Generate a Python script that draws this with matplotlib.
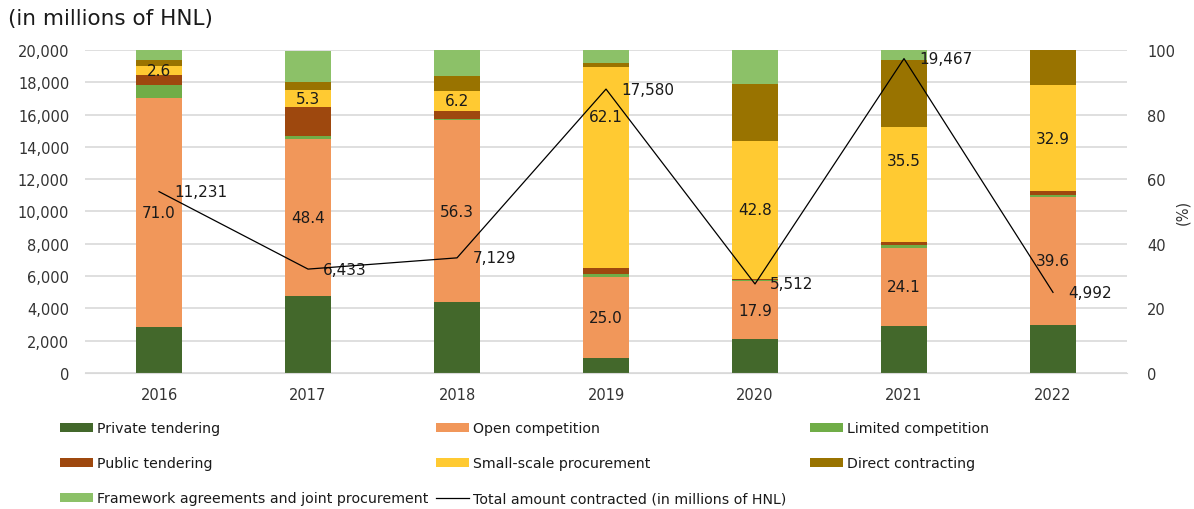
import matplotlib
matplotlib.use("Agg")
import matplotlib.pyplot as plt
from matplotlib.patches import Patch
from matplotlib.lines import Line2D
from matplotlib.ticker import FuncFormatter, MultipleLocator
import numpy as np

years = ["2016", "2017", "2018", "2019", "2020", "2021", "2022"]
series_names = ["Private tendering", "Open competition", "Limited competition",
                "Public tendering", "Small-scale procurement", "Direct contracting",
                "Framework agreements and joint procurement"]
private_tendering = [14.2, 23.9, 21.9, 4.6, 10.5, 14.7, 15.0]
open_competition = [71.0, 48.4, 56.3, 25.0, 17.9, 24.1, 39.6]
limited_competition = [4.1, 1.2, 0.5, 1.0, 0.4, 0.7, 0.5]
public_tendering = [3.0, 8.8, 2.5, 1.9, 0.3, 1.1, 1.1]
small_scale = [2.6, 5.3, 6.2, 62.1, 42.8, 35.5, 32.9]
direct_contracting = [1.9, 2.5, 4.5, 1.5, 17.7, 20.8, 10.9]
framework = [3.2, 9.7, 8.1, 3.9, 10.4, 3.1, 0.0]
total_amount = [11231, 6433, 7129, 17580, 5512, 19467, 4992]
line_name = "Total amount contracted (in millions of HNL)"

colors = ["#43682B", "#F1975A", "#70AD47", "#9E480E", "#FFCA32", "#997300", "#8CC168"]

series = [private_tendering, open_competition, limited_competition, public_tendering,
          small_scale, direct_contracting, framework]
labelled = {1: open_competition, 4: small_scale}
label_shift = {4: [0, 0, 0, 16, 0, 7.5, 0]}

plt.rcParams['font.family'] = ['DejaVu Sans']
fig = plt.figure(figsize=(11.94, 5.10), dpi=100)
ax = fig.add_axes([0.0708, 0.2667, 0.8735, 0.6333])
ax2 = ax.twinx()

x = np.arange(len(years))
bottom = np.zeros(len(years))
for i, (vals, c) in enumerate(zip(series, colors)):
    vals = np.array(vals)
    ax2.bar(x, vals, width=0.315, bottom=bottom, color=c, zorder=2)
    if i in labelled:
        shift = label_shift.get(i, [0] * len(years))
        for j in range(len(years)):
            ax2.text(x[j], bottom[j] + vals[j] / 2 + shift[j], f"{vals[j]:.1f}",
                     ha="center", va="center", fontsize=11, color="#1a1a1a", zorder=3)
    bottom += vals

ax2.set_ylim(0, 100)
ax2.yaxis.set_major_locator(MultipleLocator(20))
ax2.yaxis.set_minor_locator(MultipleLocator(10))
ax2.grid(True, which="both", axis="y", color="#d9d9d9", linewidth=1.2, zorder=0)
ax2.set_axisbelow(True)
ax2.tick_params(axis="y", which="both", length=0, labelsize=10.5, pad=14, colors="#333333")
fig.text(1183 / 1194, 1 - 212 / 510, "(%)", rotation=90, fontsize=10.5, color="#333333",
         ha="center", va="center")

ax.set_zorder(ax2.get_zorder() + 1)
ax.patch.set_visible(False)
ax.plot(x, total_amount, color="black", linewidth=0.9, zorder=4)
for j in range(len(years)):
    ax.annotate(f"{total_amount[j]:,}", (x[j], total_amount[j]), xytext=(11, 0),
                textcoords="offset points", ha="left", va="center", fontsize=11,
                color="#1a1a1a")
ax.set_ylim(0, 20000)
ax.set_xlim(-0.5, len(years) - 0.5)
ax.yaxis.set_major_locator(MultipleLocator(2000))
ax.yaxis.set_major_formatter(FuncFormatter(lambda v, p: f"{int(v):,}"))
ax.tick_params(axis="y", length=0, labelsize=10.5, pad=11, colors="#333333")
ax.set_xticks(x)
ax.set_xticklabels(years)
ax.tick_params(axis="x", length=0, labelsize=10.5, pad=10, colors="#333333")
for a in (ax, ax2):
    for s in a.spines.values():
        s.set_visible(False)
ax2.spines["bottom"].set_visible(True)
ax2.spines["bottom"].set_color("#d9d9d9")

fig.text(0.007, 0.963, "(in millions of HNL)", fontsize=15.5, ha="left", va="center",
         color="#1a1a1a")

handles = [Patch(facecolor=c, label=n) for c, n in zip(colors, series_names)]
handles.append(Line2D([0], [0], color="black", linewidth=0.9, label=line_name))
columns = [[0, 3, 6], [1, 4, 7], [2, 5]]
col_x = [60, 436, 810]
for col, cx in zip(columns, col_x):
    leg = fig.legend([handles[k] for k in col], [handles[k].get_label() for k in col],
                     ncol=1, loc="upper left", bbox_to_anchor=(cx / 1194, 1 - 422 / 510),
                     frameon=False, fontsize=10.2, handlelength=2.3, handleheight=0.6,
                     handletextpad=0.3, labelspacing=1.5, borderaxespad=0, borderpad=0)
    for t in leg.get_texts():
        t.set_color("#1a1a1a")

fig.savefig("out.png", dpi=100)
